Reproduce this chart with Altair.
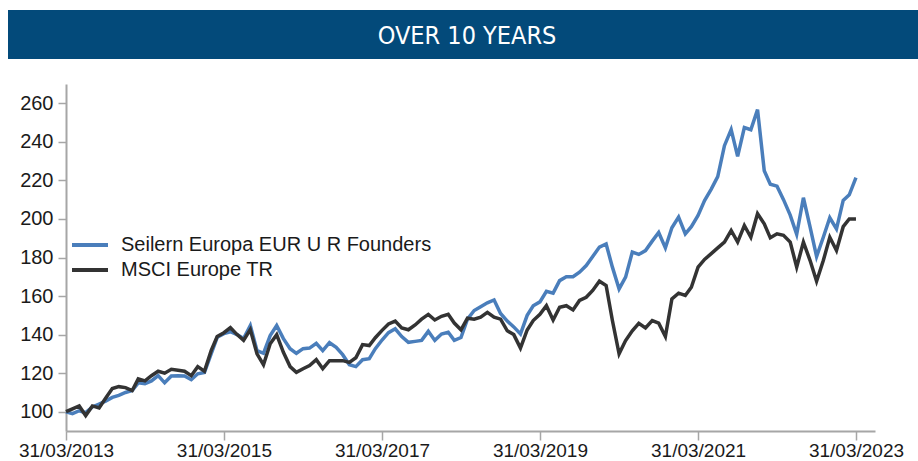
import calendar
import altair as alt
import pandas as pd

# ---------------- data ----------------
series_names = ["Seilern Europa EUR U R Founders", "MSCI Europe TR"]
series_colors = ["#4A7EBB", "#333333"]

start_year, start_month, n_months = 2013, 3, 121

seilern = [
    100, 99, 100.5, 99.5, 102.5, 104, 105.5, 107.4, 108.5, 110, 111, 115, 114.5,
    116, 118.7, 115, 118.5, 118.7, 118.5, 116.6, 119.7, 120.4, 130, 138.6, 140.5,
    141.5, 140, 138, 144.7, 131.7, 130.3, 139.5, 144.7, 137.9, 132.7, 130.3, 132.7,
    133, 135.5, 131.7, 135.8, 133.4, 129.6, 124.4, 123.4, 127, 127.5, 132.7, 137.2,
    141, 143, 139, 136, 136.5, 137, 141.7, 137, 140.3, 141.2, 137, 138.5,
    148, 152.5, 154.5, 156.5, 158, 151, 147, 144, 140.3, 150, 155, 157,
    162.5, 161.5, 168, 170, 170, 172.4, 175.8, 180.5, 185.4, 187, 175, 163.7,
    169.8, 182.8, 181.6, 183.6, 188.5, 193, 185, 195.4, 201, 192.3, 196, 201.8,
    209.5, 215.5, 222, 238, 246.3, 232.5, 247.4, 246.3, 256.7, 225, 218, 217,
    210, 202, 192, 211, 195.7, 180.5, 190.5, 200.6, 194.8, 209.6, 212.5, 221.4,
]

msci = [
    100, 101.5, 103, 98, 103, 102, 107, 112, 113, 112.5, 111, 117, 116,
    118.7, 121, 120, 122, 121.5, 121, 118.7, 123.4, 121, 131.7, 139, 141,
    143.6, 140, 137, 142.6, 130, 124.4, 135.3, 140, 130.8, 123.4, 120.4, 122.3,
    124, 127, 122.3, 126.5, 126.5, 126.5, 125.6, 128, 134.8, 134.3, 138.4, 142.2,
    145.5, 147, 143.5, 142.5, 145, 148, 150.5, 147.6, 149.5, 150.5, 146, 142.5,
    148.5, 148, 149, 151.5, 149, 148, 142, 140, 133, 142.4, 147.3, 150.5,
    155, 147.6, 154.2, 155, 152.8, 157.7, 159.4, 162.9, 167.7, 165.5, 147.3, 130,
    136.9, 142, 145.9, 143.5, 147.3, 145.9, 139, 158.5, 161.5, 160.3, 164.6, 175,
    179, 182, 185, 188, 194, 188, 196.6, 190.5, 202.7, 197.5, 190.2, 192.3,
    191.5, 188, 175, 188, 178.4, 167.7, 178.4, 190.5, 183.6, 196, 200, 200,
]

tick_years = [2013, 2015, 2017, 2019, 2021, 2023]
y_ticks = [100, 120, 140, 160, 180, 200, 220, 240, 260]
title_text = "OVER 10 YEARS"


def month_end(i):
    k = start_month - 1 + i
    y = start_year + k // 12
    m = k % 12 + 1
    d = calendar.monthrange(y, m)[1]
    return f"{y:04d}-{m:02d}-{d:02d}"


dates = [month_end(i) for i in range(n_months)]

df = pd.DataFrame({
    "date": dates + dates,
    "value": seilern + msci,
    "series": [series_names[0]] * n_months + [series_names[1]] * n_months,
})

# ---------------- chart ----------------
W, H = 809, 347
FONT = "Liberation Sans, Arial, sans-serif"

x_enc = alt.X(
    "date:T",
    scale=alt.Scale(
        type="utc",
        domain=[alt.DateTime(year=2013, month=3, date=31, utc=True),
                alt.DateTime(year=2023, month=6, date=27, utc=True)],
    ),
    axis=alt.Axis(
        values=[alt.DateTime(year=yr, month=3, date=31, utc=True) for yr in tick_years],
        labelExpr="utcFormat(datum.value, '%d/%m/%Y')",
        title=None, labelPadding=1, tickSize=9, labelOverlap=False,
        labelFlush=False, labelFontSize=19,
    ),
)
y_enc = alt.Y(
    "value:Q",
    scale=alt.Scale(domain=[90, 270], nice=False, zero=False),
    axis=alt.Axis(values=y_ticks, title=None, labelPadding=5, tickSize=8),
)
color_enc = alt.Color(
    "series:N",
    scale=alt.Scale(domain=series_names, range=series_colors),
    legend=alt.Legend(
        title=None, orient="none", legendX=10, legendY=147,
        symbolType="M-1.5,0H1.5", symbolSize=576, symbolStrokeWidth=4,
        labelFontSize=20, labelFont=FONT, labelColor="#1a1a1a",
        labelOffset=17, rowPadding=1, padding=0, labelLimit=600,
    ),
)

base = alt.Chart(df).mark_line(strokeWidth=3.5).encode(x=x_enc, y=y_enc, color=color_enc)
blue = base.transform_filter(alt.datum.series == series_names[0])
black = base.transform_filter(alt.datum.series == series_names[1])

title_df = pd.DataFrame({"t": [title_text]})
bar = alt.Chart(title_df).mark_rect(color="#034A7A").encode(
    x=alt.value(-58), x2=alt.value(852), y=alt.value(-74), y2=alt.value(-25)
)
bar_text = alt.Chart(title_df).mark_text(
    color="white", fontSize=25,
    font="Liberation Sans Narrow, DejaVu Sans Condensed, Arial Narrow, sans-serif",
    align="center", baseline="middle",
).encode(x=alt.value(401), y=alt.value(-48), text="t:N")

chart = alt.layer(bar, bar_text, blue, black).properties(
    width=W, height=H,
    autosize=alt.AutoSizeParams(type="none"),
    padding={"left": 66, "top": 84, "right": 43, "bottom": 30},
    background="white",
).configure_view(stroke=None).configure_axis(
    grid=False, labelFont=FONT, labelFontSize=20, labelColor="#1a1a1a",
    domainColor="#a6a6a6", domainWidth=2, tickColor="#a6a6a6", tickWidth=1.5,
)

chart.save("out.html", embed_options={"renderer": "svg", "actions": False})
